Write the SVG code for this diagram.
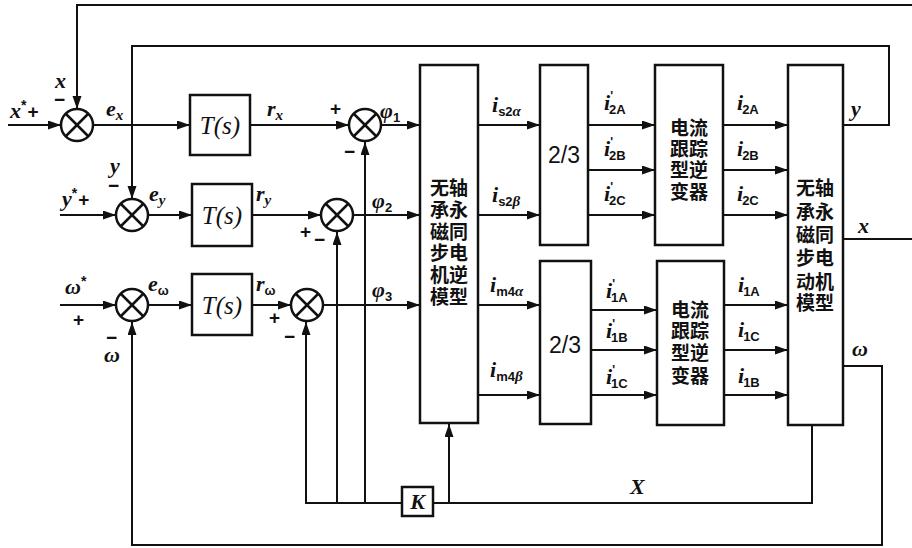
<svg xmlns="http://www.w3.org/2000/svg" width="912" height="548" viewBox="0 0 912 548">
<style>
.ln{fill:none;stroke:#111;stroke-width:2}
.blk{fill:#fff;stroke:#111;stroke-width:2.5}
.sum{fill:#fff;stroke:#111;stroke-width:2.5}
.v{font-family:"Liberation Serif",serif;font-style:italic;font-weight:bold;font-size:22px;fill:#111}
.sub{font-family:"Liberation Sans",sans-serif;font-style:normal;font-weight:bold;font-size:13px}
.subi{font-family:"Liberation Serif",serif;font-style:italic;font-weight:bold;font-size:15px}
.pr{font-family:"Liberation Sans",sans-serif;font-style:normal;font-weight:bold;font-size:12px}
.st{font-family:"Liberation Sans",sans-serif;font-style:normal;font-weight:bold;font-size:14px}
.pm{font-family:"Liberation Sans",sans-serif;font-style:normal;font-weight:bold;font-size:19px}
.sg{font-family:"Liberation Sans",sans-serif;font-weight:bold;font-size:19px;fill:#111}
.ts{font-family:"Liberation Serif",serif;font-style:italic;font-size:25px;fill:#111}
.cn{font-family:"Noto Sans CJK SC",sans-serif;font-weight:bold;font-size:19px;fill:#111}
.num{font-family:"Liberation Sans",sans-serif;font-size:23px;fill:#111}
</style>
<defs>
<marker id="ar" markerUnits="userSpaceOnUse" markerWidth="14" markerHeight="10" refX="13" refY="4.5" orient="auto">
<path d="M0,0 L13,4.5 L0,9 z" fill="#111"/>
</marker>
<g id="cross"><line x1="-11" y1="-11" x2="11" y2="11" stroke="#111" stroke-width="2.5"/><line x1="-11" y1="11" x2="11" y2="-11" stroke="#111" stroke-width="2.5"/></g>
</defs>
<rect width="912" height="548" fill="#fff"/>

<g id="connectors">
<path class="ln" d="M912,5 H77 V109" marker-end="url(#ar)"/>
<path class="ln" d="M843,239 H912"/>
<path class="ln" d="M843,125 H889 V46 H132 V199" marker-end="url(#ar)"/>
<path class="ln" d="M843,366 H882 V545 H132 V322" marker-end="url(#ar)"/>
<path class="ln" d="M812,425 V503 H433"/>
<path class="ln" d="M402,503 H306 V322" marker-end="url(#ar)"/>
<path class="ln" d="M337,503 V232" marker-end="url(#ar)"/>
<path class="ln" d="M365,503 V142" marker-end="url(#ar)"/>
<path class="ln" d="M449,503 V424" marker-end="url(#ar)"/>
<path class="ln" d="M8,125 H61" marker-end="url(#ar)"/>
<path class="ln" d="M93,125 H190" marker-end="url(#ar)"/>
<path class="ln" d="M250,125 H349" marker-end="url(#ar)"/>
<path class="ln" d="M381,125 H420" marker-end="url(#ar)"/>
<path class="ln" d="M60,215 H116" marker-end="url(#ar)"/>
<path class="ln" d="M148,215 H192" marker-end="url(#ar)"/>
<path class="ln" d="M252,215 H321" marker-end="url(#ar)"/>
<path class="ln" d="M353,215 H420" marker-end="url(#ar)"/>
<path class="ln" d="M60,305 H116" marker-end="url(#ar)"/>
<path class="ln" d="M148,305 H192" marker-end="url(#ar)"/>
<path class="ln" d="M252,305 H291" marker-end="url(#ar)"/>
<path class="ln" d="M323,305 H420" marker-end="url(#ar)"/>
<path class="ln" d="M478,125 H540" marker-end="url(#ar)"/>
<path class="ln" d="M478,215 H540" marker-end="url(#ar)"/>
<path class="ln" d="M478,305 H540" marker-end="url(#ar)"/>
<path class="ln" d="M478,395 H540" marker-end="url(#ar)"/>
<path class="ln" d="M588,125 H655" marker-end="url(#ar)"/>
<path class="ln" d="M588,170 H655" marker-end="url(#ar)"/>
<path class="ln" d="M588,215 H655" marker-end="url(#ar)"/>
<path class="ln" d="M723,125 H788" marker-end="url(#ar)"/>
<path class="ln" d="M723,170 H788" marker-end="url(#ar)"/>
<path class="ln" d="M723,215 H788" marker-end="url(#ar)"/>
<path class="ln" d="M591,310 H657" marker-end="url(#ar)"/>
<path class="ln" d="M591,350 H657" marker-end="url(#ar)"/>
<path class="ln" d="M591,395 H657" marker-end="url(#ar)"/>
<path class="ln" d="M724,305 H788" marker-end="url(#ar)"/>
<path class="ln" d="M724,350 H788" marker-end="url(#ar)"/>
<path class="ln" d="M724,395 H788" marker-end="url(#ar)"/>
</g>

<g id="sum-x"><circle class="sum" cx="77" cy="125" r="16"/><use href="#cross" x="77" y="125"/></g>
<g id="sum-y"><circle class="sum" cx="132" cy="215" r="16"/><use href="#cross" x="132" y="215"/></g>
<g id="sum-w"><circle class="sum" cx="132" cy="305" r="16"/><use href="#cross" x="132" y="305"/></g>
<g id="sum-phi1"><circle class="sum" cx="365" cy="125" r="16"/><use href="#cross" x="365" y="125"/></g>
<g id="sum-phi2"><circle class="sum" cx="337" cy="215" r="16"/><use href="#cross" x="337" y="215"/></g>
<g id="sum-phi3"><circle class="sum" cx="307" cy="305" r="16"/><use href="#cross" x="307" y="305"/></g>

<g id="T1"><rect class="blk" x="190" y="95" width="60" height="60"/><text class="ts" x="220" y="134" text-anchor="middle">T(s)</text></g>
<g id="T2"><rect class="blk" x="192" y="184" width="60" height="62"/><text class="ts" x="222" y="224" text-anchor="middle">T(s)</text></g>
<g id="T3"><rect class="blk" x="192" y="274" width="60" height="61"/><text class="ts" x="222" y="314" text-anchor="middle">T(s)</text></g>

<g id="inverse-model"><rect class="blk" x="420" y="65" width="58" height="358"/>
<text class="cn" text-anchor="middle"><tspan x="449" y="195">无轴</tspan><tspan x="449" y="217">承永</tspan><tspan x="449" y="239">磁同</tspan><tspan x="449" y="260">步电</tspan><tspan x="449" y="282">机逆</tspan><tspan x="449" y="304">模型</tspan></text></g>

<g id="conv-top"><rect class="blk" x="540" y="65" width="48" height="180"/><text class="num" x="564" y="163" text-anchor="middle">2/3</text></g>
<g id="conv-bot"><rect class="blk" x="540" y="261" width="51" height="163"/><text class="num" x="565" y="353" text-anchor="middle">2/3</text></g>

<g id="inv-top"><rect class="blk" x="655" y="65" width="68" height="180"/>
<text class="cn" text-anchor="middle"><tspan x="689" y="135">电流</tspan><tspan x="689" y="156">跟踪</tspan><tspan x="689" y="177">型逆</tspan><tspan x="689" y="199">变器</tspan></text></g>
<g id="inv-bot"><rect class="blk" x="657" y="261" width="67" height="164"/>
<text class="cn" text-anchor="middle"><tspan x="690" y="317">电流</tspan><tspan x="690" y="338">跟踪</tspan><tspan x="690" y="360">型逆</tspan><tspan x="690" y="383">变器</tspan></text></g>

<g id="motor-model"><rect class="blk" x="788" y="65" width="55" height="360"/>
<text class="cn" text-anchor="middle"><tspan x="815" y="195">无轴</tspan><tspan x="815" y="219">承永</tspan><tspan x="815" y="242">磁同</tspan><tspan x="815" y="265">步电</tspan><tspan x="815" y="289">动机</tspan><tspan x="815" y="310">模型</tspan></text></g>

<g id="K"><rect class="blk" x="402" y="487" width="31" height="29"/><text class="v" x="417.5" y="509" text-anchor="middle" font-size="21">K</text></g>

<g id="labels">
<text class="v" x="10" y="118">x<tspan class="st" dy="-8">*</tspan><tspan class="pm" dx="1" dy="8">+</tspan></text>
<text class="v"><tspan x="55" y="88">x</tspan><tspan class="pm" x="54" y="106">−</tspan></text>
<text class="v" x="106" y="116">e<tspan class="subi" dy="4">x</tspan></text>
<text class="v" x="267" y="116">r<tspan class="subi" dy="4">x</tspan></text>
<text class="sg" x="330" y="115">+</text><text class="sg" x="344" y="158">−</text>
<text class="v" x="380" y="118">φ<tspan class="sub" dy="4">1</tspan></text>

<text class="v"><tspan x="110" y="173">y</tspan><tspan class="pm" x="108" y="192">−</tspan></text>
<text class="v" x="62" y="206">y<tspan class="st" dy="-8">*</tspan><tspan class="pm" dx="1" dy="8">+</tspan></text>
<text class="v" x="149" y="201">e<tspan class="subi" dy="4">y</tspan></text>
<text class="v" x="256" y="201">r<tspan class="subi" dy="4">y</tspan></text>
<text class="sg"><tspan x="300" y="238">+</tspan><tspan x="314" y="246">−</tspan></text>
<text class="v" x="372" y="208">φ<tspan class="sub" dy="4">2</tspan></text>

<text class="v" x="65" y="294">ω<tspan class="st" dy="-8">*</tspan></text><text class="sg" x="73" y="326">+</text>
<text class="v"><tspan class="pm" x="106" y="344">−</tspan><tspan x="104" y="362">ω</tspan></text>
<text class="v" x="148" y="291">e<tspan class="sub" dy="4" font-size="11">ω</tspan></text>
<text class="v" x="256" y="291">r<tspan class="sub" dy="4" font-size="11">ω</tspan></text>
<text class="sg"><tspan x="269" y="324">+</tspan><tspan x="284" y="343">−</tspan></text>
<text class="v" x="372" y="297">φ<tspan class="sub" dy="4">3</tspan></text>

<text class="v" x="492" y="112">i<tspan class="sub" dy="4">s2</tspan><tspan class="subi">α</tspan></text>
<text class="v" x="492" y="202">i<tspan class="sub" dy="4">s2</tspan><tspan class="subi">β</tspan></text>
<text class="v" x="490" y="292">i<tspan class="sub" dy="4">m4</tspan><tspan class="subi">α</tspan></text>
<text class="v" x="490" y="377">i<tspan class="sub" dy="4">m4</tspan><tspan class="subi">β</tspan></text>

<text class="v" x="604" y="110">i<tspan class="pr" dy="-10">'</tspan><tspan class="sub" dx="-4" dy="14">2A</tspan></text>
<text class="v" x="604" y="156">i<tspan class="pr" dy="-10">'</tspan><tspan class="sub" dx="-4" dy="14">2B</tspan></text>
<text class="v" x="604" y="201">i<tspan class="pr" dy="-10">'</tspan><tspan class="sub" dx="-4" dy="14">2C</tspan></text>
<text class="v" x="737" y="110">i<tspan class="sub" dx="-1" dy="4">2A</tspan></text>
<text class="v" x="737" y="156">i<tspan class="sub" dx="-1" dy="4">2B</tspan></text>
<text class="v" x="737" y="201">i<tspan class="sub" dx="-1" dy="4">2C</tspan></text>

<text class="v" x="606" y="298">i<tspan class="pr" dy="-10">'</tspan><tspan class="sub" dx="-4" dy="14">1A</tspan></text>
<text class="v" x="606" y="338">i<tspan class="pr" dy="-10">'</tspan><tspan class="sub" dx="-4" dy="14">1B</tspan></text>
<text class="v" x="606" y="384">i<tspan class="pr" dy="-10">'</tspan><tspan class="sub" dx="-4" dy="14">1C</tspan></text>
<text class="v" x="738" y="292">i<tspan class="sub" dx="-1" dy="4">1A</tspan></text>
<text class="v" x="738" y="337">i<tspan class="sub" dx="-1" dy="4">1C</tspan></text>
<text class="v" x="738" y="383">i<tspan class="sub" dx="-1" dy="4">1B</tspan></text>

<text class="v" x="851" y="116" font-size="24">y</text>
<text class="v" x="858" y="233" font-size="24">x</text>
<text class="v" x="852" y="356">ω</text>
<text class="v" x="630" y="494" font-weight="normal">X</text>
</g>
</svg>
